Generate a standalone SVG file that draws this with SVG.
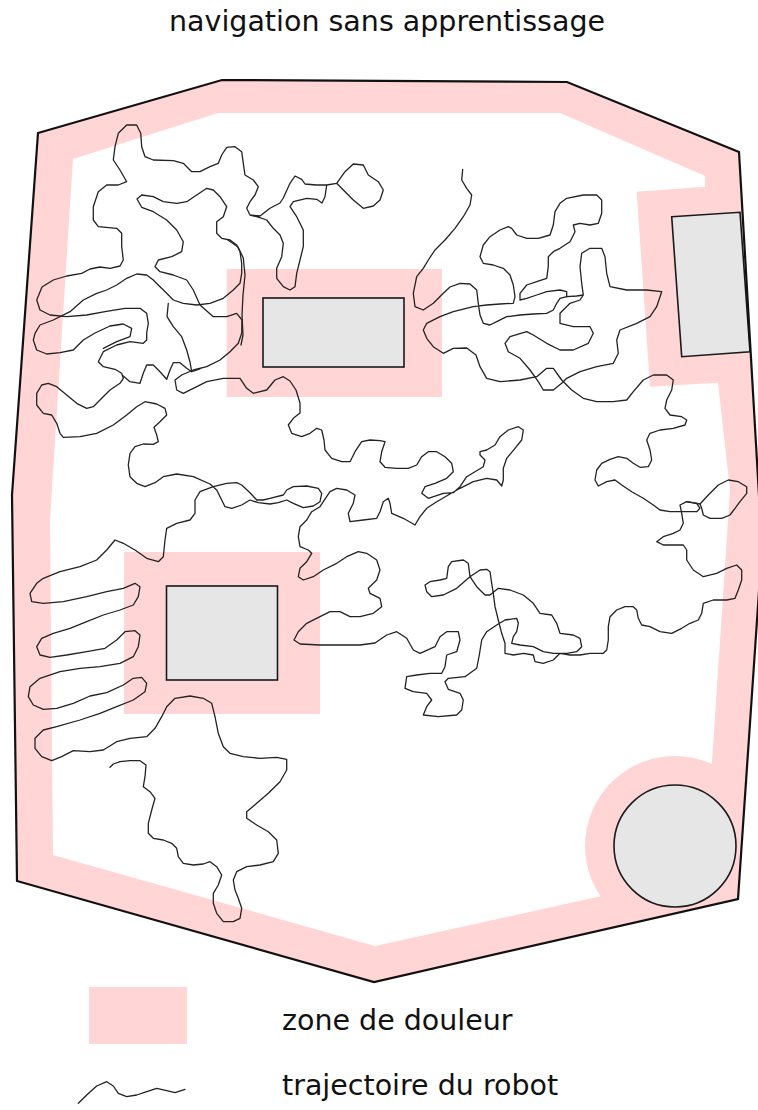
<svg xmlns="http://www.w3.org/2000/svg" width="758" height="1110" viewBox="0 0 758 1110">
<style>
.pain{fill:#ffd6d5}
.obs{fill:#e6e6e6;stroke:#1a1a1a;stroke-width:1.6}
.traj{fill:none;stroke:#222;stroke-width:1.3;stroke-linejoin:round;stroke-linecap:round}
.lbl{font-family:"DejaVu Sans","Liberation Sans",sans-serif;font-size:28.5px;fill:#111}
</style>
<defs>
<clipPath id="roomClip"><polygon points="38,133 222,80 567,82 739,152 762,547 738,899 374,982 17,881 12,495"/></clipPath>
</defs>
<rect width="758" height="1110" fill="#fff"/>
<text id="title" class="lbl" x="387" y="31" text-anchor="middle">navigation sans apprentissage</text>
<g id="room">
<polygon class="pain" points="38,133 222,80 567,82 739,152 762,547 738,899 374,982 17,881 12,495"/>
<polygon fill="#fff" points="73,159 218,113 560,113 705,176 705,188 718,383 730,490 712,762 705,880 597,897 375,946 53,855 50,520"/>
</g>
<g id="zones" clip-path="url(#roomClip)">
<rect class="pain" x="226.7" y="269" width="215.3" height="128"/>
<polygon class="pain" points="636.7,191.7 705,186.7 730,186.7 735,383 718,382.7 650,386.7"/>
<rect class="pain" x="124" y="552" width="196" height="162"/>
<circle class="pain" cx="675" cy="846" r="90"/>
</g>
<g id="obstacles">
<rect id="obstacle1" class="obs" x="263" y="298" width="141" height="69"/>
<polygon id="obstacle2" class="obs" points="671.7,216.7 740,212.3 750,351.7 681.7,356.7"/>
<rect id="obstacle3" class="obs" x="166.5" y="586" width="111" height="94"/>
<circle id="obstacle4" class="obs" cx="675" cy="846" r="61"/>
</g>
<g id="trajectoire">
<polyline class="traj" points="250,215 256.7,216.7 266.7,220 273.3,228.3 280,235 283.3,243.3 281.7,256.7 276.7,268.3 276.7,278.3 283.3,286.7 290,290 295,286.7 296.7,273.3 300,260 303.3,246.7 303.3,230 296.7,216.7 290,206.7 293.3,201.7 306.7,198.3 316.7,199.3 322,203 325,196.7 326.7,185 336.7,183.3 343.3,190 353.3,200 363.3,208.3 373.3,206 380,200 383.3,190 378.3,181.7 368.3,175 363.3,165 353.3,164 345,171.7 336.7,183.3 326.7,185 316,185 305,184 301.7,179.3 295,176 290,183.3 283.3,198 280,203 270,208.3 260,216 250,215 246.7,208.3 250,201.7 255,195 258.3,186.7 253.3,180 245,175 243.3,163.3 241.7,151.7 235,146.7 226.7,147.3 221.7,155 218.3,163.3 210,166.7 200,171.7 191.7,171.7 183.3,163.3 173.3,160.7 153.3,160 145,156.7 141.7,146.7 140.7,133.3 136.7,125 126.7,125 118.3,133.3 115,146.7 113.3,160 120,170 126.7,181.7 118.3,185 106.7,185 98.3,191.7 93.3,206.7 93.3,220 98.3,226.7 116.7,228.3 121.7,233.3 121.7,246.7 123.3,260 120,266 110,268.3 100,267 90,269 81.7,273.3 66.7,276 53.3,280 42,287 36.7,300 40,310 50,315 66.7,316.7 86.7,315 105,311.7 125,308.3 140,308.3 146.7,313.3 148.3,323.3 146.7,333 146.7,340 143.3,343.3 130,341.7 116.7,345 103.3,351.7 98.3,361.7 103.3,366.7 115,369.3 121.7,373.3 123.3,378.3 120,383.3 110,390 101.7,398.3 93.3,406.7 86.7,408.3 76.7,403.3 66.7,395 56.7,386.7 48.3,383.3 41.7,385 36.7,393.3 36.7,405 43.3,413.3 51.7,415 56.7,423.3 60,433.3 63.3,437.3 80,436.7 96.7,433.3 113.3,425 126.7,415 136.7,406.7 145,401.7 156.7,404 165,408.3 166.7,415 160,421.7 154,427.3 156.7,435 158.3,441.7 153.3,444.3 143.3,444 135,446.7 130,453.3 128.3,465 130,476.7 136.7,483.3 145,486.7 155,482.7 163.3,476.7 176.7,474 193.3,476.7 210,484 216.7,490 221.7,500 225,506.7 231.7,508.3 241.7,505 250,500 258.3,502.7 270,504 278.3,502.7 286.7,500 293.3,503.3 303.3,507.7 313.3,506 320,501.7 321.7,493.3 318.3,488.3 306.7,486 293.3,486.7 286.7,490 283.3,495 270,498.3 263,500 256.7,500 250,492.7 241.7,485 236.7,482.7 226.7,483.3 213.3,486.7 200,491.7 195,500 195,513.3 190,520 176.7,523.3 166.7,528.3 165,540 163.3,556.7 158.3,561.7 146.7,558.3 135,550 123.3,543.3 115,540 106.7,550 96.7,560 80,566.7 60,571.7 43.3,578.3 36.7,583.3 30,593.3 31.7,601.7 43.3,603.3 63.3,601.7 86.7,596.7 106.7,591.7 123.3,588.3 135,583.3 140,586.7 138.3,596.7 133.3,605 120,610 103.3,615 86.7,621.7 70,628.3 53.3,633.3 41.7,638.3 36.7,646.7 40,655 50,657.3 66.7,655 86.7,651.7 105,648.3 116.7,640 125,631.7 135,630.7 140,635 138.3,646.7 133.3,656.7 120,663.3 100,666.7 80,668.3 60,671.7 40,678.3 30,686.7 28.3,696.7 33.3,705 43.3,709.3 56.7,708.3 73.3,703.3 90,696 106.7,692.7 123.3,685 133.3,678.3 141.7,677.3 146.7,683.3 145,691.7 133.3,700 116.7,706.7 100,713.3 80,720 56.7,726.7 43.3,730 35,738.3 35,748.3 41.7,756.7 51.7,760.7 61.7,756.7 73.3,750.7 90,751.7 103.3,750 116.7,741.7 130,738.3 146.7,736.7 155,728.3 161.7,716.7 166.7,706.7 175,698.3 190,696 203.3,698.3 211.7,703.3 215,716.7 218.3,733.3 223.3,746.7 230,753.3 243.3,756.7 260,758.3 276.7,757.3 286.7,759.3 286.7,770 280,781.7 268.3,793.3 256.7,803.3 246.7,811.7 246.7,818.3 256.7,825 268.3,831.7 276.7,840 278.3,853.3 273.3,861.7 260,865 246.7,866.7 236.7,871.7 233.3,880 235,890 238.3,898.3 241.7,908.3 240,918.3 233.3,921.7 223.3,921.7 216.7,913.3 213.3,903.3 213.3,893.3 218.3,885 221.7,875 216.7,866.7 210,861.7 203.3,864 193.3,865 183.3,863.3 178.3,856.7 176.7,848.3 171.7,843.3 163.3,840 153.3,838.3 148.3,833.3 148.3,823.3 151.7,810 155,798.3 150,791.7 143.3,786.7 145,776.7 146,765 140,760.7 130,760.7 120,761.7 113.3,764 110,767.3"/>
<polyline class="traj" points="103.3,348.3 116.7,341.7 130,336.7 131.7,328.3 123.3,324 110,326 95,333 83.3,340 73.3,350 60,352.7 46.7,354 36.7,350 33.3,340 35,333.3 40,325 53.3,320 70,311.7 83.3,300 96.7,293.3 106.7,290 116.7,285 126.7,278.3 136.7,274 146.7,275 153.3,280 160,286.7 166.7,293.3 173.3,300 183.3,303.3 196.7,305 210,303.3 223.3,298.3 233.3,290 240,283.3 241.7,273.3 241.7,263.3 240,251.7 236.7,245 230,240 221.7,238.3 216.7,233.3 216.7,221.7 223.3,216.7 226.7,206.7 220,196.7 213.3,190 206.7,188.3 196.7,195 186.7,201.7 176.7,203.3 163.3,201.7 153.3,196.7 141.7,195 137,199 141.7,207.3 153.3,211.7 166.7,220 176.7,230 183.3,241.7 181.7,251.7 171.7,256.7 158.3,260 155,266.7 160,271.7 173.3,275 186.7,280 193.3,290 200,305 213.3,316.7 226.7,316.7 236.7,313.3 242,320 241.7,333.3 238.3,343.3 230,351.7 220,360 206.7,366.7 193.3,370 181.7,375 175,380 176.7,390 183.3,393.3 193.3,388.3 206.7,381.7 223.3,378.3 240,378.3 246.7,388.3 253.3,393.3 266.7,390 275,380 283.3,376.7 290,381 296,390 300,403 300,413 293.3,418.3 288.3,425 291.7,433.3 301.7,436.7 310,433.3 316.7,428.3 321.7,430 324,440 325,450 331.7,458.3 341.7,461.7 350,461.7 355,451.7 361.7,441.7 370,440 380,440.7 385,441.7 381.7,451.7 380,461.7 385,467.3 396.7,468.3 408.3,468.3 416.7,465 421.7,456.7 428.3,451.7 436.7,451.7 445,456.7 451.7,463.3 453.3,471.7 446.7,478.3 435,483.3 425,486.7 421.7,493.3 428.3,498.3 443.3,493.3 453.3,492.7 460,486.7 466.7,476.7 475,471.7 483.3,466.7 485,460 480,455 480,451.7 486.7,450 495,445 500,436.7 508.3,430 518.3,426.7 523.3,430 521.7,440 515,448.3 506.7,458.3 503.3,468.3 503.3,480 501.7,486 496.7,480 486.7,478.3 473.3,481.7 460,488.3 448.3,495 436.7,501.7 426.7,508.3 420,516.7 415,525 403.3,518.3 391.7,513.3 390,503.3 388.3,498.3 383.3,501.7 380,511.7 376.7,518.3 363.3,520 350,521.7 348.3,513.3 353.3,503.3 355,495 346.7,490 336.7,488.3 330,491.7 323.3,501.7 320,506.7 311.7,511.7 306.7,520 300,526.7 298.3,536.7 300,546.7 308.3,550 311.7,553.3 306.7,561.7 300,568.3 298.3,576.7 303.3,580 313.3,576.7 323.3,570 336.7,563.3 346.7,556.7 358.3,551.7 366.7,553.3 376.7,560 380,570 376.7,580 368.3,588.3 370,593.3 380,598.3 381.7,606.7 373.3,613.3 360,616.7 350,616.7 340,611.7 330,611.7 320,616.7 306.7,623.3 298.3,631.7 294,640 300,644 320,645 340,645 360,645 375,643 386.7,635 396.7,631.7 406.7,638.3 413.3,650 420,653.3 435,646.7 440,636.7 446.7,631.7 458.3,631.7 460,640 456.7,651.7 446.7,655 445,666.7 441.7,673.3 430,673.3 416.7,675 406.7,676.7 405,688.3 413.3,691.7 426.7,693.3 431.7,700 426.7,706.7 423.3,715 438.3,716.7 456.7,715 461.7,710 463.3,700 460,693.3 448.3,689.3 445,681.7 448.3,678.3 465,676.7 476.7,668.3 479.3,655 481.7,640 486.7,631.7 496.7,625 505,620 516.7,618.3 518.3,623.3 516.7,631.7 513.3,636.7 511.7,643.3 520,645 533.3,646.7 543.3,651.7 553.3,653.3 566.7,653.3 576.7,651.7 581.7,646.7 580,638.3 573.3,635 560,633.3 556.7,623.3 551.7,615 540,613.3 533.3,603.3 523.3,595 510,590 498.3,588.3 490,595 485,595 476.7,586.7 470,576.7 468.3,563.3 463.3,560 451.7,561.7 448.3,566.7 446.7,578.3 440,580 430,581.7 425,585 426.7,591.7 431.7,596.7 443.3,595 456.7,588.3 470,576.7 480,570 486.7,569.3 490,571.7 491.7,583.3 493.3,593.3 495,606.7 498.3,620 501.7,633.3 505,643.3 505,653.3 513.3,655 523.3,653.3 533.3,655 535,661.7 543.3,663.3 553.3,660 560,653.3 570,655 580,655 590,653.3 603.3,653.3 606.7,650 608.3,640 608.3,626.7 610,616.7 616.7,610 625,606.7 633.3,606.7 636.7,610 638.3,618.3 641.7,625 650,626.7 660,631.7 671.7,633.3 681.7,628.3 690,623.3 698.3,620 701.7,613.3 703.3,603.3 713.3,600 726.7,600 735,598.3 738.3,590 741.7,580 741.7,570 736.7,565 726.7,568.3 716.7,573.3 703.3,576.7 693.3,570 686.7,560 686.7,550 683.3,545 673.3,545 663.3,545 656.7,541.7 663.3,536.7 673.3,533.3 680,530 683.3,523.3 681.7,513.3 680,505 686.7,501.7 696.7,503.3 700,508.3 696.7,511.7 683.3,511.7 670,511.7 660,510 653.3,505 643.3,498.3 631.7,491.7 621.7,485 615,480 606.7,481.7 598.3,486 595,480 596.7,470 601.7,463.3 610,459.3 618.3,456.7 626.7,458.3 633.3,463.3 640,467.3 648.3,466.7 651.7,460 650,450 646.7,440 650,433.3 660,430 673.3,428.3 685,425 686.7,420 681.7,416.7 670,415 665,408.3 666.7,400 671.7,390 673.3,380 666.7,375 653.3,375 643.3,380 633.3,391.7 626.7,400 613.3,401.7 596.7,401.7 583.3,398.3 571.7,390 561.7,380 553.3,368.3 546.7,368.3 536.7,376.7 520,380 500,381.7 486.7,378.3 480,366.7 476,355 466.7,348 453.3,348.3 443.3,353.3 433.3,346.7 426.7,338.3 423.3,330 426.7,323.3 440,316.7 453.3,311.7 473.3,306.7 486.7,305 500,304 513.3,303.3 515,296.7 513.3,285 510,275 503.3,268.3 493.3,265 483.3,263.3 480,256.7 483.3,245 490,236.7 500,230 508.3,226.7 511.7,228.3 516.7,235 526.7,238.3 538.3,238.3 550,235 553.3,225 555,211.7 560,203.3 566.7,198.3 583.3,195 596.7,195 601.7,200 601.7,213.3 598.3,223.3 590,225 580,223.3 573.3,225 575,231.7 570,241.7 560,248.3 553.3,251.7 548.3,256.7 548.3,266.7 546.7,278.3 536.7,281.7 526.7,285 520,293.3 520,300 526.7,298.3 536.7,295 546.7,291.7 560,290 566.7,291.7 566.7,296.7 560,298.3 556.7,303.3 553.3,310 546.7,313.3 533.3,314 520,315 506.7,316.7 496.7,321.7 490,325 483.3,323.3 480,315 478.3,303.3 476.7,290 470,284 460,283.3 450,287 443.3,293.3 433.3,303.3 423.3,310 415,306.7 413.3,293.3 416.7,276.7 423.3,268.3 428.3,260 435,250 445,240 455,228.3 463.3,216.7 470,205 471.7,195 466.7,188.3 461.7,180 462.7,169.3"/>
<polyline class="traj" points="686.7,501.7 700,504 708.3,495 718.3,485 728.3,480 738.3,481.7 746.7,486.7 746.7,493.3 740,501.7 735,508.3 730,515 721.7,518.3 710,518.3 703.3,515 701.7,508.3 700,504"/>
<polyline class="traj" points="566.7,296.7 576.7,296 583.3,295 581.7,283.3 580,266.7 581.7,253.3 590,248.3 601.7,248.3 605,256.7 606.7,273.3 610,286.7 626.7,290 646.7,290 661.7,291.7 656.7,306.7 650,316.7 636.7,323.3 620,330 616.7,340 618.3,353.3 613.3,363.3 596.7,366.7 580,371.7 566.7,378.3 561.7,383.3 553.3,390 543.3,390 538.3,381.7 530,370 520,358.3 508.3,351.7 505,343.3 510,336.7 526.7,331.7 533.3,335 546.7,343.3 560,350 573.3,350 588.3,343.3 593.3,333.3 590,326.7 573.3,326.7 560,323.3 560,313.3 570,303.3 580,300 583.3,295"/>
<polyline class="traj" points="123.3,376 130,381.7 140,383.3 143.3,373.3 146.7,365 153.3,365 160,371.7 166.7,379.3 170,370 173.3,362.7 180,362.7 186.7,368.3 191.7,371.7 200,369"/>
<polyline class="traj" points="168.3,303.3 167,316.7 173.3,326.7 181.7,336.7 186.7,350 190,362 191.7,371.7"/>
<polyline class="traj" points="228,240 238,247 243.3,258 245,275 243,295 242,315 243,335 241,345"/>
</g>
<polygon id="mur" fill="none" stroke="#111" stroke-width="2.2" stroke-linejoin="miter" points="38,133 222,80 567,82 739,152 762,547 738,899 374,982 17,881 12,495"/>
<g id="legend">
<rect class="pain" x="89" y="987" width="98" height="57"/>
<text class="lbl" x="282" y="1030">zone de douleur</text>
<polyline class="traj" points="78.3,1103.3 86.7,1095 96.7,1086 106.7,1081.7 113.3,1086 118.3,1093.3 126.7,1096.7 136.7,1095 146.7,1091.7 156.7,1088.3 166.7,1090.7 175,1092.7 185,1089.3"/>
<text class="lbl" x="282" y="1095">trajectoire du robot</text>
</g>
</svg>
